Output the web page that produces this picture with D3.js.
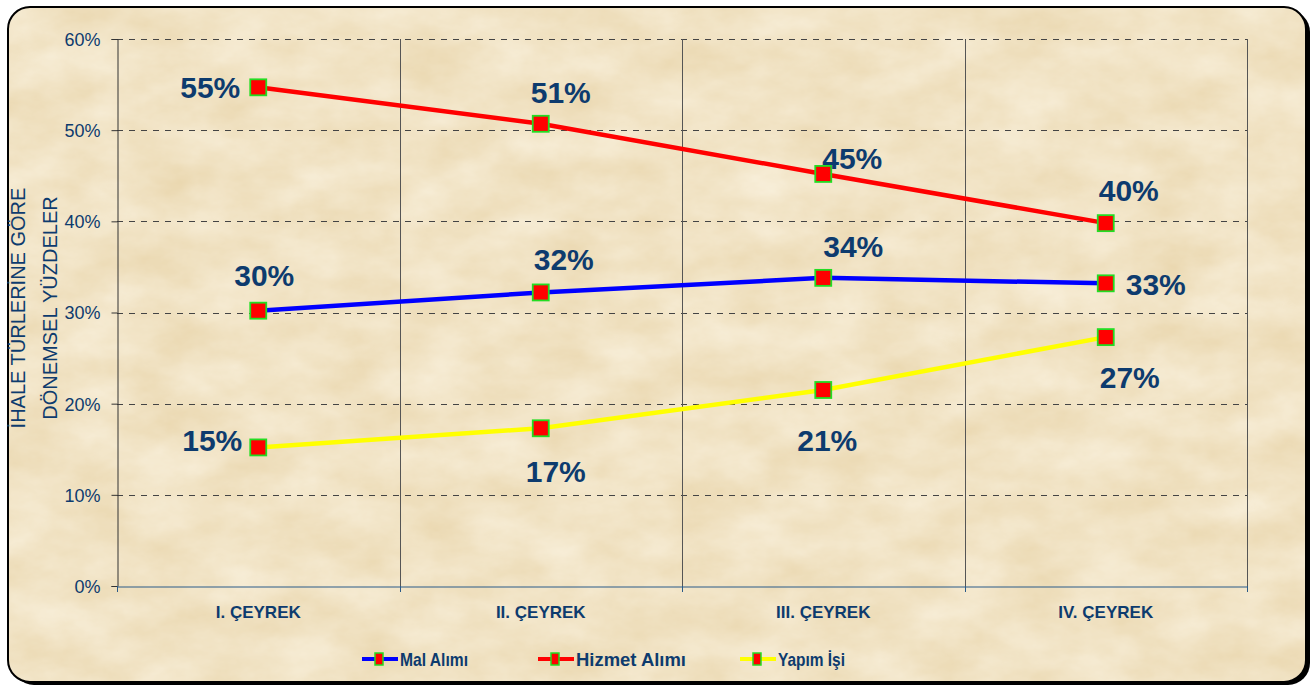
<!DOCTYPE html>
<html>
<head>
<meta charset="utf-8">
<script src="https://cdn.jsdelivr.net/npm/d3@7"></script>
<style>
  body { margin: 0; background: #fff; }
  svg { display: block; font-family: Arial, "Liberation Sans", sans-serif; }
</style>
</head>
<body>
<div class="chart"></div>
<script>
var svgWidth = 1315;
var svgHeight = 685;

// data
var categories = ["I. ÇEYREK", "II. ÇEYREK", "III. ÇEYREK", "IV. ÇEYREK"];
var seriesNames = ["Mal Alımı", "Hizmet Alımı", "Yapım İşi"];
var malAlimi = [0.302, 0.322, 0.338, 0.332];
var hizmetAlimi = [0.547, 0.507, 0.452, 0.398];
var yapimIsi = [0.152, 0.173, 0.215, 0.273];
var valueLabels = [
  ["30%", "32%", "34%", "33%"],
  ["55%", "51%", "45%", "40%"],
  ["15%", "17%", "21%", "27%"]
];
var yTicks = [0, 0.1, 0.2, 0.3, 0.4, 0.5, 0.6];

// styling, kept apart from the values
var lineColors = ["#0000ff", "#ff0000", "#ffff00"];
var labelOffsets = [
  [[6, -35], [23, -33], [30, -32], [50, 1]],
  [[-48, 0], [20, -32], [29, -16], [23, -33]],
  [[-46, -7], [15, 43], [4, 50], [24, 40]]
];
var legendX = [362, 538, 740];
var legendTextWidth = [68, 110, 67];

var margin = { top: 39, right: 68, bottom: 99, left: 117 };
var width = svgWidth - margin.left - margin.right;
var height = svgHeight - margin.top - margin.bottom;
var navy = "#0d3b6e";

var svg = d3.select(".chart")
  .append("svg")
  .attr("width", svgWidth)
  .attr("height", svgHeight);

var defs = svg.append("defs");

// parchment texture
var filt = defs.append("filter").attr("id", "paper")
  .attr("x", 0).attr("y", 0).attr("width", "100%").attr("height", "100%")
  .attr("color-interpolation-filters", "sRGB");
filt.append("feTurbulence")
  .attr("type", "fractalNoise")
  .attr("baseFrequency", "0.015 0.025")
  .attr("numOctaves", 5)
  .attr("seed", 11)
  .attr("result", "noise");
filt.append("feColorMatrix")
  .attr("in", "noise")
  .attr("type", "matrix")
  .attr("values", "0.06 0 0 0 0.915  0.1 0 0 0 0.84  0.18 0 0 0 0.68  0 0 0 0 1");

defs.append("clipPath").attr("id", "frame")
  .append("rect")
  .attr("x", 8).attr("y", 7)
  .attr("width", 1298).attr("height", 675)
  .attr("rx", 22).attr("ry", 22);

// shadow + frame
svg.append("rect")
  .attr("x", 12).attr("y", 10)
  .attr("width", 1298).attr("height", 675)
  .attr("rx", 22).attr("ry", 22)
  .attr("fill", "#000");

svg.append("g").attr("clip-path", "url(#frame)")
  .append("rect")
  .attr("x", 8).attr("y", 7)
  .attr("width", 1298).attr("height", 675)
  .attr("filter", "url(#paper)");

svg.append("rect")
  .attr("x", 8).attr("y", 7)
  .attr("width", 1298).attr("height", 675)
  .attr("rx", 22).attr("ry", 22)
  .attr("fill", "none")
  .attr("stroke", "#000")
  .attr("stroke-width", 2);

var chartGroup = svg.append("g")
  .attr("transform", `translate(${margin.left}, ${margin.top})`);

var x = d3.scaleBand()
  .domain(categories)
  .range([0, width]);

var y = d3.scaleLinear()
  .domain([0, 0.6])
  .range([height, 0]);

// horizontal dashed grid
chartGroup.append("g")
  .selectAll("line")
  .data(yTicks.filter(function(d) { return d > 0; }))
  .enter()
  .append("line")
  .attr("x1", 0).attr("x2", width)
  .attr("y1", function(d) { return Math.round(y(d)) + 0.5; })
  .attr("y2", function(d) { return Math.round(y(d)) + 0.5; })
  .attr("stroke", "#444")
  .attr("stroke-dasharray", "6,6");

// vertical category separators
chartGroup.append("g")
  .selectAll("line")
  .data(categories)
  .enter()
  .append("line")
  .attr("x1", function(d) { return Math.round(x(d) + x.bandwidth()) + 0.5; })
  .attr("x2", function(d) { return Math.round(x(d) + x.bandwidth()) + 0.5; })
  .attr("y1", 0).attr("y2", height)
  .attr("stroke", "#555");

// y axis
var yAxis = chartGroup.append("g")
  .attr("transform", "translate(0.5,0)")
  .call(d3.axisLeft(y).tickValues(yTicks).tickFormat(d3.format(".0%")).tickSize(6).tickPadding(11));
yAxis.select(".domain").attr("stroke", "#333");
yAxis.selectAll(".tick line").attr("stroke", "#333");
yAxis.selectAll("text")
  .attr("fill", navy)
  .style("font-size", "18px")
  .attr("dy", "0.36em");

// x axis
var xAxis = chartGroup.append("g")
  .attr("transform", `translate(0,${height + 0.5})`)
  .call(d3.axisBottom(x).tickSize(0).tickPadding(19));
xAxis.select(".domain").attr("stroke", "#2a5a88");
xAxis.selectAll("text")
  .attr("fill", navy)
  .style("font-size", "17px")
  .style("font-weight", "bold");

chartGroup.append("g")
  .selectAll("line")
  .data([0].concat(categories.map(function(d) { return x(d) + x.bandwidth(); })))
  .enter()
  .append("line")
  .attr("x1", function(d) { return Math.round(d) + 0.5; })
  .attr("x2", function(d) { return Math.round(d) + 0.5; })
  .attr("y1", height).attr("y2", height + 6)
  .attr("stroke", "#2a5a88");

// y axis title
var yTitle = svg.append("text")
  .attr("transform", "translate(25,308) rotate(-90)")
  .attr("text-anchor", "middle")
  .attr("fill", navy)
  .style("font-size", "20px");
yTitle.append("tspan").attr("x", 0).attr("y", 0).text("İHALE TÜRLERİNE GÖRE");
yTitle.append("tspan").attr("x", 0).attr("y", 32).text("DÖNEMSEL YÜZDELER");

// lines, markers, labels
var allSeries = [malAlimi, hizmetAlimi, yapimIsi];
var line = d3.line()
  .x(function(d, i) { return x(categories[i]) + x.bandwidth() / 2; })
  .y(function(d) { return y(d); });

allSeries.forEach(function(values, s) {
  chartGroup.append("path")
    .datum(values)
    .attr("d", line)
    .attr("fill", "none")
    .attr("stroke", lineColors[s])
    .attr("stroke-width", 4.5);
});

allSeries.forEach(function(values, s) {
  chartGroup.append("g")
    .selectAll("rect")
    .data(values)
    .enter()
    .append("rect")
    .attr("x", function(d, i) { return x(categories[i]) + x.bandwidth() / 2 - 8; })
    .attr("y", function(d) { return y(d) - 8; })
    .attr("width", 16).attr("height", 16)
    .attr("fill", "#ff0000")
    .attr("stroke", "#22dd22")
    .attr("stroke-width", 1.8);

  chartGroup.append("g")
    .selectAll("text")
    .data(values)
    .enter()
    .append("text")
    .attr("x", function(d, i) { return x(categories[i]) + x.bandwidth() / 2 + labelOffsets[s][i][0]; })
    .attr("y", function(d, i) { return y(d) + labelOffsets[s][i][1]; })
    .attr("dy", "0.36em")
    .attr("text-anchor", "middle")
    .attr("fill", navy)
    .style("font-size", "30px")
    .style("font-weight", "bold")
    .text(function(d, i) { return valueLabels[s][i]; });
});

// legend
var legend = svg.append("g");
seriesNames.forEach(function(name, s) {
  var g = legend.append("g").attr("transform", `translate(${legendX[s]},659)`);
  g.append("line")
    .attr("x1", 0).attr("x2", 36)
    .attr("stroke", lineColors[s])
    .attr("stroke-width", 4);
  g.append("rect")
    .attr("x", 13).attr("y", -6)
    .attr("width", 8).attr("height", 12)
    .attr("fill", "#ff0000")
    .attr("stroke", "#22dd22")
    .attr("stroke-width", 1.5);
  g.append("text")
    .attr("x", 38).attr("y", 7)
    .attr("fill", navy)
    .attr("textLength", legendTextWidth[s])
    .attr("lengthAdjust", "spacingAndGlyphs")
    .style("font-size", "19px")
    .style("font-weight", "bold")
    .text(name);
});
</script>
</body>
</html>
